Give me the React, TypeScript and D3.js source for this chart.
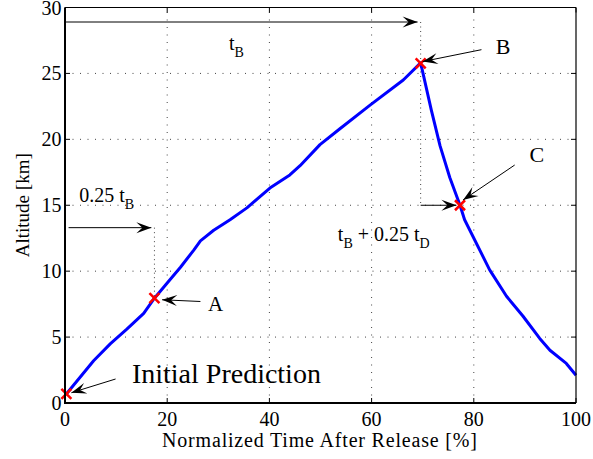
import * as d3 from 'd3'

const W = 593
const H = 459
const margin = { top: 7.5, right: 17, bottom: 56, left: 65 }

// trajectory
const timePct = [0.3, 5.6, 8.9, 12.1, 15.4, 17.5, 20, 22.6, 25.2, 26.5, 29.1, 32.3, 35.6, 40.1, 44, 46, 49.9, 53.8, 59.7, 66.2, 69.6, 71.7, 73.4, 75.3, 77.3, 78.2, 83.1, 86.4, 89.6, 92.9, 94.9, 98.1, 100]
const altKm = [0.7, 3.2, 4.5, 5.6, 6.8, 7.95, 9.1, 10.3, 11.6, 12.3, 13.1, 13.9, 14.8, 16.3, 17.3, 18.0, 19.6, 20.8, 22.6, 24.5, 25.8, 22.2, 19.5, 17.1, 15.0, 13.9, 10.1, 8.1, 6.6, 4.9, 4.0, 3.0, 2.1]

const xTicks = [0, 20, 40, 60, 80, 100]
const yTicks = [0, 5, 10, 15, 20, 25, 30]

const markT = [0.27, 17.5, 69.6, 77.3]
const markAlt = [0.7, 7.95, 25.76, 15.0]

// [t1, a1, t2 (tip), a2 (tip)]
const arrows: [number, number, number, number][] = [
  [0.2, 28.9, 69.0, 28.9],
  [0.7, 13.3, 16.9, 13.3],
  [69.6, 15.0, 76.6, 15.0],
  [9.9, 1.82, 1.25, 0.78],
  [26.5, 7.7, 19.0, 7.83],
  [81.5, 26.8, 70.0, 25.9],
  [88.0, 18.05, 77.9, 15.4],
]
const guides: [number, number, number, number][] = [
  [69.6, 28.9, 69.6, 15.0],
  [17.5, 13.3, 17.5, 7.95],
]

// [t, a, fontSize, parts] ; parts: [text, isSubscript]
const labels: [number, number, number, [string, boolean][]][] = [
  [32.1, 26.8, 20, [['t', false], ['B', true]]],
  [2.8, 15.25, 20, [['0.25 t', false], ['B', true]]],
  [53.4, 12.3, 20, [['t', false], ['B', true], [' + 0.25 t', false], ['D', true]]],
  [28.0, 7.0, 21, [['A', false]]],
  [84.3, 26.5, 22, [['B', false]]],
  [90.9, 18.3, 22, [['C', false]]],
  [13.1, 1.54, 28, [['Initial Prediction', false]]],
]

const font = '"Liberation Serif", "Times New Roman", serif'

export default function App() {
  const x = d3.scaleLinear().domain([0, 100]).range([margin.left, W - margin.right])
  const y = d3.scaleLinear().domain([0, 30]).range([H - margin.bottom, margin.top])
  const x0 = x(0), x1 = x(100), y0 = y(0), y1 = y(30)

  const line = d3.line<number>()
    .x((_, i) => x(timePct[i]))
    .y(d => y(d))

  const tick = 5

  return (
    <svg width={W} height={H} style={{ position: 'absolute', left: 0, top: 0, background: '#fff' }} fontFamily={font}>
      <defs>
        <marker id="head" markerUnits="userSpaceOnUse" markerWidth="20" markerHeight="16"
          viewBox="-16 -8 18 16" refX="0" refY="0" orient="auto">
          <path d="M0,0 L-15,-5.5 L-9,0 L-15,5.5 Z" fill="#000" />
        </marker>
      </defs>

      {/* grid */}
      {xTicks.slice(1, -1).map(t => (
        <line key={'gx' + t} x1={x(t)} x2={x(t)} y1={y0} y2={y1} stroke="#444" strokeWidth={1} strokeDasharray="1,6.5" />
      ))}
      {yTicks.slice(1, -1).map(t => (
        <line key={'gy' + t} x1={x0} x2={x1} y1={y(t)} y2={y(t)} stroke="#444" strokeWidth={1} strokeDasharray="1,6.5" />
      ))}

      {/* ticks on all sides */}
      {xTicks.map(t => (
        <g key={'tx' + t}>
          <line x1={x(t)} x2={x(t)} y1={y0} y2={y0 - tick} stroke="#000" />
          <line x1={x(t)} x2={x(t)} y1={y1} y2={y1 + tick} stroke="#000" />
          <text x={x(t)} y={y0 + 23} fontSize={20} textAnchor="middle">{t}</text>
        </g>
      ))}
      {yTicks.map(t => (
        <g key={'ty' + t}>
          <line x1={x0} x2={x0 + tick} y1={y(t)} y2={y(t)} stroke="#000" />
          <line x1={x1} x2={x1 - tick} y1={y(t)} y2={y(t)} stroke="#000" />
          <text x={x0 - 3.5} y={y(t) + 7} fontSize={20} textAnchor="end">{t}</text>
        </g>
      ))}

      {/* guide lines */}
      {guides.map((g, i) => (
        <line key={'gd' + i} x1={x(g[0])} y1={y(g[1])} x2={x(g[2])} y2={y(g[3])} stroke="#444" strokeDasharray="1,3.5" />
      ))}

      {/* trajectory */}
      <path d={line(altKm) ?? ''} fill="none" stroke="#0000ff" strokeWidth={3} strokeLinejoin="round" />

      {/* event markers */}
      {markT.map((t, i) => (
        <path key={'m' + i} d={`M${x(t) - 5},${y(markAlt[i]) - 5}L${x(t) + 5},${y(markAlt[i]) + 5}M${x(t) - 5},${y(markAlt[i]) + 5}L${x(t) + 5},${y(markAlt[i]) - 5}`}
          stroke="#ff0000" strokeWidth={2.5} fill="none" />
      ))}

      {/* arrows */}
      {arrows.map((a, i) => (
        <line key={'a' + i} x1={x(a[0])} y1={y(a[1])} x2={x(a[2])} y2={y(a[3])} stroke="#000" strokeWidth={1} markerEnd="url(#head)" />
      ))}

      {/* annotation text */}
      {labels.map(([t, a, fs, parts], i) => (
        <text key={'l' + i} x={x(t)} y={y(a)} fontSize={fs}>
          {parts.map(([s, sub], j) => {
            const prevSub = j > 0 && parts[j - 1][1]
            const dy = sub ? 7 : prevSub ? -7 : 0
            return <tspan key={j} dy={dy} fontSize={sub ? fs * 0.7 : fs} style={{ whiteSpace: 'pre' }}>{s}</tspan>
          })}
        </text>
      ))}

      {/* box */}
      <line x1={x0} x2={x1} y1={y1} y2={y1} stroke="#000" strokeWidth={1.2} />
      <line x1={x1} x2={x1} y1={y1} y2={y0} stroke="#000" strokeWidth={1.2} />
      <line x1={x0} x2={x0} y1={y1} y2={y0 + 1} stroke="#000" strokeWidth={2} />
      <line x1={x0 - 1} x2={x1} y1={y0} y2={y0} stroke="#000" strokeWidth={2} />

      {/* axis labels */}
      <text x={162} y={447} fontSize={20} textLength={315} lengthAdjust="spacing">Normalized Time After Release [%]</text>
      <text transform={`translate(29,${(y0 + y1) / 2}) rotate(-90)`} fontSize={19} textAnchor="middle">Altitude [km]</text>
    </svg>
  )
}
